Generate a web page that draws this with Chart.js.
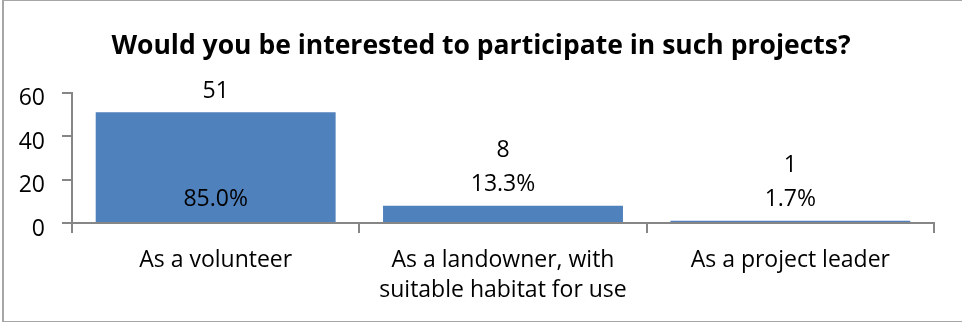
<!DOCTYPE html>
<html>
<head>
<meta charset="utf-8">
<script src="https://cdn.jsdelivr.net/npm/chart.js@4/dist/chart.umd.min.js"></script>
<style>
  body { margin: 0; background: #fff; }
  #wrap { position: relative; width: 962px; height: 322px; overflow: hidden; }
  #frame {
    position: absolute; left: 2px; top: 0; width: 1000px; height: 320px;
    border-left: 2px solid #a6a6a6; border-top: 1px solid #a6a6a6; border-bottom: 1px solid #a6a6a6;
    pointer-events: none;
  }
</style>
</head>
<body>
<div id="wrap">
  <canvas id="chart" width="962" height="322"></canvas>
  <div id="frame"></div>
</div>
<script>
// chart data
const categories = [
  'As a volunteer',
  ['As a landowner, with', 'suitable habitat for use'],
  'As a project leader'
];
const counts = [51, 8, 1];
const percentLabels = ['85.0%', '13.3%', '1.7%'];
const yTicks = [0, 20, 40, 60];

const axisColor = '#868686';
const fontFamily = '"Open Sans", sans-serif';

// Draw count and percentage labels on each bar
const barLabels = {
  id: 'barLabels',
  afterDatasetsDraw(chart) {
    const ctx = chart.ctx;
    const meta = chart.getDatasetMeta(0);
    ctx.save();
    ctx.font = '23px ' + fontFamily;
    ctx.fillStyle = '#000';
    ctx.textAlign = 'center';
    ctx.textBaseline = 'middle';
    meta.data.forEach((bar, i) => {
      const h = bar.base - bar.y;
      if (h > 60) {
        // tall bar: percent inside near base, count above
        ctx.fillText(percentLabels[i], bar.x, bar.base - 23);
        ctx.fillText(String(counts[i]), bar.x, bar.y - 21);
      } else {
        ctx.fillText(percentLabels[i], bar.x, bar.y - 21);
        ctx.fillText(String(counts[i]), bar.x, bar.y - 55);
      }
    });
    ctx.restore();
  }
};

new Chart(document.getElementById('chart').getContext('2d'), {
  type: 'bar',
  data: {
    labels: categories,
    datasets: [{
      data: counts,
      backgroundColor: '#4F81BD',
      borderWidth: 0,
      barPercentage: 0.835,
      categoryPercentage: 1
    }]
  },
  options: {
    responsive: false,
    animation: false,
    devicePixelRatio: 1,
    // equal side padding keeps the title centred on the canvas
    layout: { padding: { left: 14, right: 14, top: 0, bottom: 0 } },
    plugins: {
      legend: { display: false },
      tooltip: { enabled: false },
      title: {
        display: true,
        text: 'Would you be interested to participate in such projects?',
        color: '#000',
        font: { family: fontFamily, size: 26.5, weight: 'bold', lineHeight: 1.2 },
        padding: { top: 31, bottom: 30 }
      }
    },
    scales: {
      x: {
        grid: {
          display: true, drawOnChartArea: false, offset: true,
          tickLength: 10, color: axisColor, lineWidth: 2
        },
        border: { display: true, color: axisColor, width: 2 },
        ticks: {
          color: '#000', padding: 13, maxRotation: 0, autoSkip: false,
          font: { family: fontFamily, size: 23, lineHeight: 1.3 }
        },
        afterFit(scale) { scale.height = 99; }
      },
      y: {
        min: 0,
        max: 60,
        afterBuildTicks(scale) { scale.ticks = yTicks.map(v => ({ value: v })); },
        grid: {
          display: true, drawOnChartArea: false,
          tickLength: 10, color: axisColor, lineWidth: 2
        },
        border: { display: true, color: axisColor, width: 2 },
        ticks: {
          color: '#000', padding: 17, labelOffset: 6,
          font: { family: fontFamily, size: 23 }
        },
        afterFit(scale) { scale.width = 58; }
      },
      // empty right-hand spacer so the plot ends where the reference's does
      spacer: {
        type: 'linear',
        position: 'right',
        display: true,
        grid: { display: false },
        border: { display: false },
        ticks: { display: false },
        afterFit(scale) { scale.width = 14; }
      }
    }
  },
  plugins: [barLabels]
});
</script>
</body>
</html>
